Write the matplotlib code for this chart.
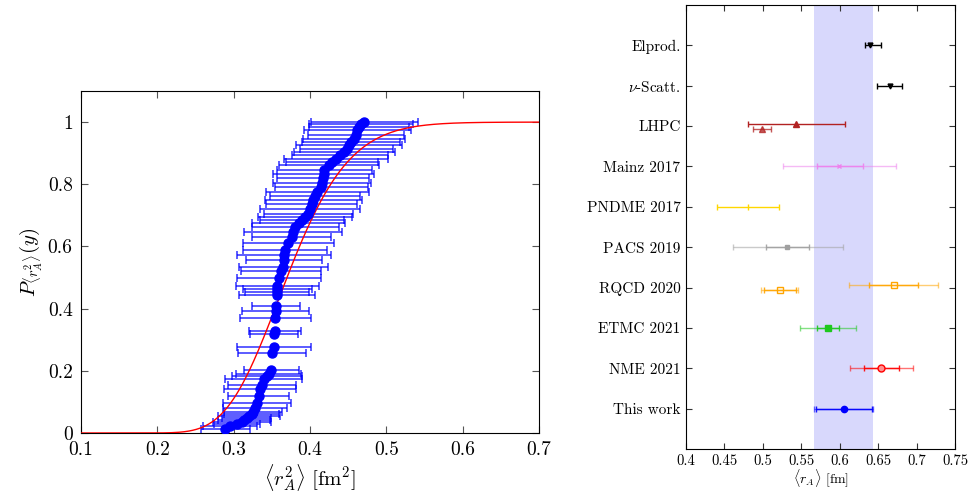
import numpy as np
import matplotlib
matplotlib.use("Agg")
import matplotlib.pyplot as plt
from math import erf

plt.rcParams['font.family'] = ['cmr10', 'DejaVu Serif']
plt.rcParams['mathtext.fontset'] = 'cm'
plt.rcParams['axes.formatter.use_mathtext'] = True

# ---------------- left panel data ----------------
cdf_y = [0.014, 0.022, 0.028, 0.035, 0.042, 0.049, 0.056, 0.060, 0.067,
         0.081, 0.097, 0.119, 0.140, 0.156, 0.173, 0.183, 0.189, 0.203,
         0.258, 0.277, 0.319, 0.327, 0.370, 0.391, 0.407,
         0.445, 0.454, 0.463, 0.472, 0.498, 0.520,
         0.535, 0.555, 0.572, 0.588, 0.610, 0.631, 0.648, 0.663, 0.675, 0.685,
         0.695, 0.706, 0.720, 0.735, 0.749, 0.762, 0.776, 0.791, 0.805, 0.820,
         0.833, 0.845, 0.861, 0.872, 0.882, 0.893, 0.904, 0.915, 0.925, 0.936,
         0.946, 0.960, 0.973, 0.984, 0.994, 1.000]
rA2_vals = [0.2887, 0.2952, 0.3040, 0.3105, 0.3140, 0.3170, 0.3200, 0.3236, 0.3257,
            0.3282, 0.3304, 0.3326, 0.3348, 0.3370, 0.3391, 0.3435, 0.3457, 0.3490,
            0.3500, 0.3528, 0.3528, 0.3537, 0.3546, 0.3550, 0.3554,
            0.3563, 0.3566, 0.3569, 0.3572, 0.3594, 0.3617,
            0.3650, 0.3655, 0.3660, 0.3670, 0.3717, 0.3760, 0.3780, 0.3804, 0.3850, 0.3891,
            0.3935, 0.3978, 0.4000, 0.4020, 0.4044, 0.4070, 0.4096, 0.4144, 0.4160, 0.4170,
            0.4180, 0.4187, 0.4249, 0.4290, 0.4337, 0.4390, 0.4446, 0.4480, 0.4511, 0.4540,
            0.4577, 0.4600, 0.4620, 0.4640, 0.4664, 0.4708]
rA2_errs = [0.032, 0.035, 0.030, 0.038, 0.034, 0.032, 0.040, 0.036, 0.038,
            0.042, 0.045, 0.040, 0.047, 0.044, 0.050, 0.046, 0.043, 0.036,
            0.045, 0.048, 0.031, 0.034, 0.046, 0.044, 0.031,
            0.050, 0.042, 0.045, 0.054, 0.055, 0.052,
            0.058, 0.050, 0.062, 0.055, 0.060, 0.052, 0.064, 0.057, 0.061, 0.055,
            0.062, 0.058, 0.066, 0.060, 0.063, 0.059, 0.067, 0.061, 0.064, 0.060,
            0.066, 0.062, 0.065, 0.060, 0.068, 0.063, 0.066, 0.061, 0.069, 0.064,
            0.067, 0.063, 0.070, 0.065, 0.068, 0.070]
# fitted model CDF (log-normal) parameters
fit_logmedian = -0.995
fit_logwidth = 0.171

# ---------------- right panel data ----------------
labels = ['This work', 'NME 2021', 'ETMC 2021', 'RQCD 2020', 'PACS 2019',
          'PNDME 2017', 'Mainz 2017', 'LHPC', r'$\nu$-Scatt.', 'Elprod.']
band = (0.5665, 0.643)
# (value, inner_lo, inner_hi, outer_lo, outer_hi) or (value, lo, hi)
thiswork = (0.6052, 0.5691, 0.642, 0.567, 0.6437)
nme = (0.6541, 0.6316, 0.6771, 0.6138, 0.695)
etmc = (0.5852, 0.5709, 0.599, 0.5488, 0.6216)
rqcd_a = (0.6702, 0.6385, 0.7014, 0.6125, 0.7283)
rqcd_b = (0.5219, 0.5011, 0.5435, 0.4976, 0.546)
pacs = (0.5319, 0.504, 0.5605, 0.4607, 0.6047)
pndme = (0.480, 0.4403, 0.5206)
mainz = (0.5987, 0.5704, 0.630, 0.5266, 0.6736)
lhpc_a = (0.5435, 0.480, 0.6065)
lhpc_b = (0.4993, 0.4868, 0.511)
nuscatt = (0.666, 0.649, 0.681)
elprod = (0.639, 0.6335, 0.6538)

fig = plt.figure(figsize=(9.68, 4.93), dpi=100)

# ---------------- left panel ----------------
ax1 = fig.add_axes([0.0837, 0.1217, 0.4733, 0.6937])
xx = np.linspace(0.1, 0.7, 600)
zz = (np.log(xx) - fit_logmedian) / fit_logwidth
cdf = 0.5 * (1 + np.array([erf(v / np.sqrt(2)) for v in zz]))
ax1.plot(xx, cdf, color='red', lw=1.0, zorder=3)
ax1.errorbar(rA2_vals, cdf_y, xerr=rA2_errs, fmt='none', ecolor='blue',
             elinewidth=1.2, capsize=3, capthick=1.2, alpha=0.75, zorder=2)
ax1.plot(rA2_vals, cdf_y, 'o', color='blue', ms=6.5, zorder=4)
ax1.set_xlim(0.1, 0.7)
ax1.set_ylim(0, 1.1)
ax1.set_xticks([0.1, 0.2, 0.3, 0.4, 0.5, 0.6, 0.7])
ax1.set_xticklabels(['0.1', '0.2', '0.3', '0.4', '0.5', '0.6', '0.7'])
ax1.set_yticks([0, 0.2, 0.4, 0.6, 0.8, 1.0])
ax1.set_yticklabels(['0', '0.2', '0.4', '0.6', '0.8', '1'])
ax1.tick_params(direction='in', top=True, right=True, labelsize=14,
                length=5, color='#555555', pad=6)
ax1.set_xlabel(r'$\langle r_A^2\rangle\ [\mathrm{fm}^2]$', fontsize=15, labelpad=2)
ax1.set_ylabel(r'$P_{\langle r_A^2\rangle}(y)$', fontsize=15, labelpad=2)

# ---------------- right panel ----------------
ax2 = fig.add_axes([0.7087, 0.0892, 0.2779, 0.9007])
ax2.axvspan(band[0], band[1], color='#d8d8fc', lw=0, zorder=0)


def twobars(ax, y, d, color, marker, mfc=None, ms=4):
    v, ilo, ihi, olo, ohi = d
    ax.errorbar([v], [y], xerr=[[v - olo], [ohi - v]], fmt='none', ecolor=color,
                elinewidth=1.0, capsize=2.5, capthick=1.0, alpha=0.55, zorder=2)
    ax.errorbar([v], [y], xerr=[[v - ilo], [ihi - v]], fmt='none', ecolor=color,
                elinewidth=1.0, capsize=2.5, capthick=1.0, alpha=0.9, zorder=3)
    ax.plot([v], [y], marker=marker, color=color, ms=ms,
            mfc=color if mfc is None else mfc, mew=1.0, zorder=4)


def onebar(ax, y, d, color, marker, alpha=1.0, ms=4):
    v, lo, hi = d
    ax.errorbar([v], [y], xerr=[[v - lo], [hi - v]], fmt='none', ecolor=color,
                elinewidth=1.0, capsize=2.5, capthick=1.0, alpha=alpha, zorder=3)
    ax.plot([v], [y], marker=marker, color=color, ms=ms, alpha=alpha, zorder=4)


twobars(ax2, 1, thiswork, 'blue', 'o', ms=4.5)
twobars(ax2, 2, nme, 'red', 'o', mfc='#ff9090', ms=5)
twobars(ax2, 3, etmc, '#1ec81e', 's', ms=4.5)
twobars(ax2, 4 + 0.06, rqcd_a, 'orange', 's', mfc='none', ms=4.5)
twobars(ax2, 4 - 0.06, rqcd_b, 'orange', 's', mfc='none', ms=4.5)
twobars(ax2, 5, pacs, '#a0a0a0', 's', ms=3.5)
onebar(ax2, 6, pndme, 'gold', '|', ms=5)
twobars(ax2, 7, mainz, 'violet', 'x', ms=3)
onebar(ax2, 8 + 0.06, lhpc_a, 'firebrick', '^', ms=4)
onebar(ax2, 8 - 0.06, lhpc_b, 'firebrick', '^', alpha=0.75, ms=4)
onebar(ax2, 9, nuscatt, 'black', 'v', ms=3.5)
onebar(ax2, 10, elprod, 'black', 'v', ms=3.5)

ax2.set_xlim(0.4, 0.75)
ax2.set_ylim(0, 11)
ax2.set_xticks([0.4, 0.45, 0.5, 0.55, 0.6, 0.65, 0.7, 0.75])
ax2.set_xticklabels(['0.4', '0.45', '0.5', '0.55', '0.6', '0.65', '0.7', '0.75'])
ax2.set_yticks(list(range(1, 11)))
ax2.set_yticklabels(labels)
ax2.tick_params(axis='y', labelsize=11)
ax2.tick_params(axis='x', labelsize=10.5)
ax2.tick_params(direction='in', top=True, right=True,
                length=4, color='#333333', pad=4)
ax2.set_xlabel(r'$\langle r_A\rangle$ [fm]', fontsize=10, labelpad=0)

fig.savefig('out.png', dpi=100)
